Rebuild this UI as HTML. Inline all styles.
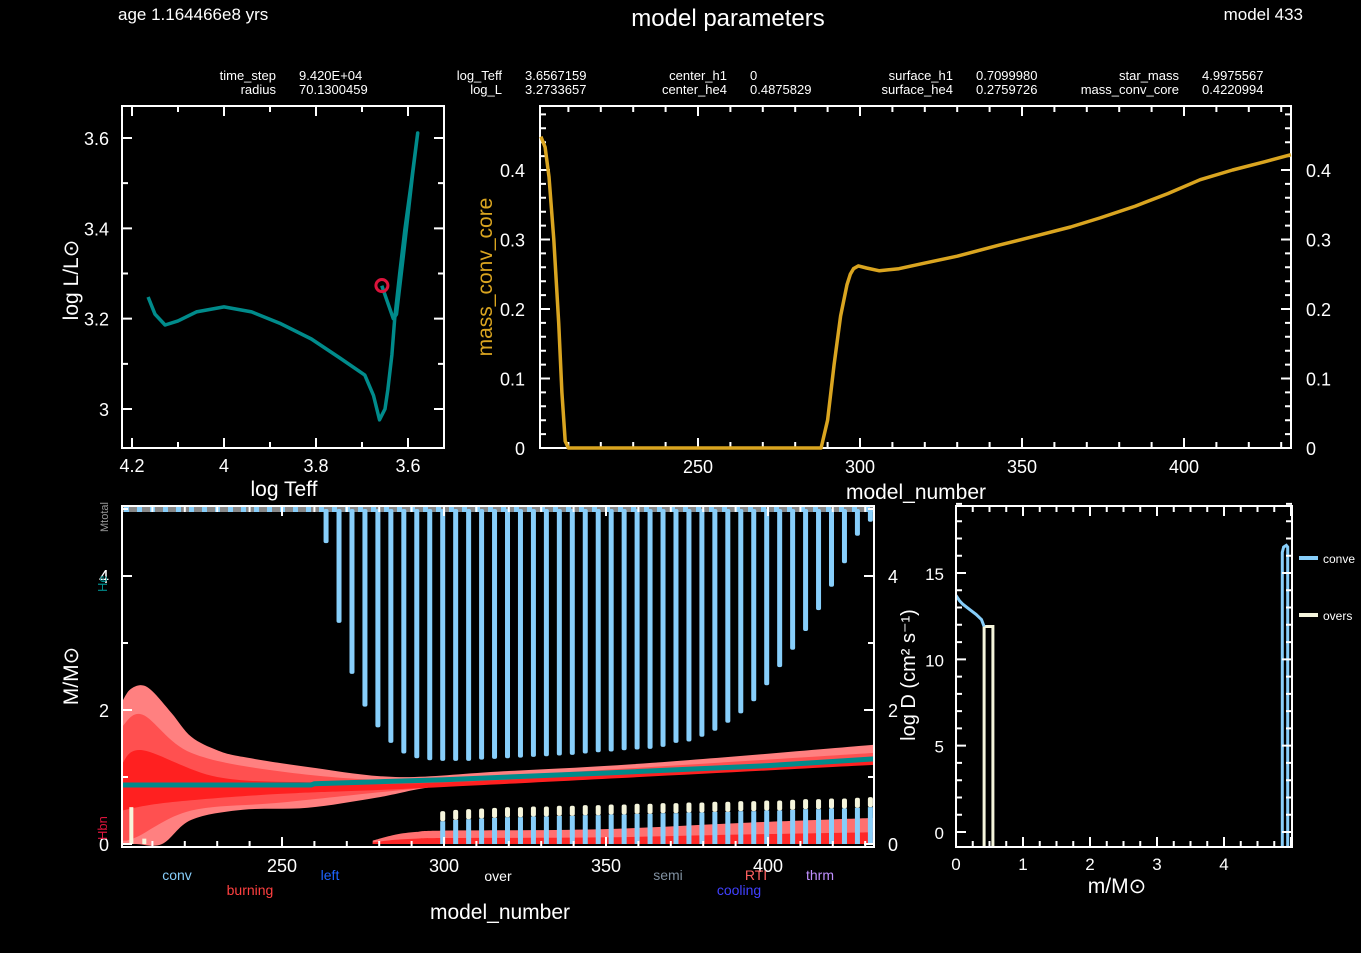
<!DOCTYPE html>
<html><head><meta charset="utf-8"><style>
html,body{margin:0;padding:0;background:#000;}
svg{display:block;font-family:"Liberation Sans",sans-serif;}
</style></head><body>
<svg id="s" width="1361" height="953" viewBox="0 0 1361 953" xmlns="http://www.w3.org/2000/svg">
<rect width="1361" height="953" fill="#000"/>
<g id="hdr" fill="#fff">
<text x="118" y="20" font-size="17">age 1.164466e8 yrs</text>
<text x="728" y="26" font-size="24" text-anchor="middle" font-weight="300">model parameters</text>
<text x="1303" y="20" font-size="17" text-anchor="end">model 433</text>
</g>
<g id="info" font-size="13" fill="#fff"></g>
<g id="hr"></g>
<g id="mc"></g>
<g id="kip"></g>
<g id="dif"></g>
</svg>
<script>
// ---- data arrays ----
const infoNames=[["time_step","radius"],["log_Teff","log_L"],["center_h1","center_he4"],["surface_h1","surface_he4"],["star_mass","mass_conv_core"]];
const infoVals=[["9.420E+04","70.1300459"],["3.6567159","3.2733657"],["0","0.4875829"],["0.7099980","0.2759726"],["4.9975567","0.4220994"]];

const hrTeff=[4.165,4.150,4.128,4.100,4.060,4.000,3.940,3.879,3.810,3.748,3.694,3.675,3.662,3.650,3.644,3.635,3.629,3.618,3.607,3.593,3.579,3.590,3.610,3.625,3.632,3.657];
const hrL=[3.248,3.210,3.186,3.195,3.215,3.226,3.215,3.190,3.155,3.113,3.075,3.030,2.976,3.000,3.042,3.120,3.200,3.300,3.396,3.500,3.611,3.520,3.340,3.210,3.200,3.273];
const hrNowT=3.6567159, hrNowL=3.2733657;

const mcModel=[201.5,202.8,204,205.5,207,208,209,210,250,288,290,292,294,296,297,298,299.5,302,306,312,320,330,343,355,365,374,385,395,405,415,425,433];
const mcVal=[0.448,0.433,0.390,0.300,0.180,0.080,0.010,0.0,0.0,0.0,0.040,0.120,0.190,0.235,0.250,0.258,0.262,0.259,0.255,0.258,0.266,0.276,0.292,0.306,0.318,0.331,0.348,0.366,0.386,0.400,0.412,0.422];

const spikeStart=263.6, spikeStep=4;
const spikeBottom=[4.49,3.30,2.54,2.05,1.74,1.51,1.35,1.28,1.25,1.24,1.24,1.24,1.26,1.27,1.28,1.29,1.30,1.31,1.32,1.33,1.35,1.37,1.38,1.40,1.41,1.42,1.45,1.51,1.53,1.60,1.69,1.81,1.95,2.13,2.37,2.64,2.90,3.18,3.49,3.84,4.19,4.60,4.81];
const coreSpikeTop=[0.34,0.36,0.37,0.38,0.39,0.40,0.40,0.41,0.41,0.42,0.42,0.43,0.43,0.44,0.44,0.45,0.45,0.46,0.46,0.47,0.47,0.48,0.48,0.49,0.49,0.50,0.50,0.51,0.52,0.52,0.53,0.53,0.54,0.55];
const outerUpM=[200.6,203,206.6,210,216,222,230,238,258,285,316.6,364,432.7];
const outerUpV=[2.12,2.30,2.37,2.28,1.95,1.60,1.40,1.30,1.15,1.00,1.08,1.21,1.48];
const outerLoM=[200.6,205,213,222,238,258,279,301,348,432.7];
const outerLoV=[0,0,0,0.36,0.51,0.54,0.69,0.88,1.06,1.21];
const midUpM=[200.6,207,222,250,285,320,432.7];
const midUpV=[1.75,1.93,1.36,1.08,0.95,1.02,1.36];
const midLoM=[200.6,205,222,250,290,330,432.7];
const midLoV=[0.05,0.10,0.50,0.62,0.82,0.98,1.20];
const inUpM=[200.6,207,230,260,300,432.7];
const inUpV=[1.20,1.40,1.00,0.92,0.92,1.25];
const inLoM=[200.6,215,250,300,432.7];
const inLoV=[0.50,0.62,0.75,0.85,1.18];
const heM=[200.6,259,260,300,350,400,432.7];
const heV=[0.88,0.88,0.90,0.96,1.06,1.17,1.27];
const lowBurnM=[278,285,291.5,300,348,394,432.7];
const lowBurnV=[0.05,0.14,0.18,0.20,0.22,0.32,0.39];

const convMass=[0,0.05,0.10,0.20,0.30,0.38,0.42];
const convD=[13.7,13.4,13.2,12.9,12.6,12.3,11.9];
const ovM=[0.42,0.42,0.55,0.55];
const ovD=[-0.9,11.9,11.9,-0.9];
const envM=[4.87,4.87,4.89,4.93,4.95,4.95];
const envD=[-0.9,16.2,16.5,16.6,16.5,-0.9];

// ---- helpers ----
const NS="http://www.w3.org/2000/svg";
function el(tag,attrs,parent,txt){const e=document.createElementNS(NS,tag);for(const k in attrs)e.setAttribute(k,attrs[k]);if(txt!==undefined)e.textContent=txt;parent.appendChild(e);return e;}
function lin(d0,d1,r0,r1){return v=>r0+(v-d0)*(r1-r0)/(d1-d0);}
function frame(g,x0,y0,x1,y1,xs,ys,xMaj,xMin,yMaj,yMin,xr,yr,majLen,minLen){
  el('rect',{x:x0,y:y0,width:x1-x0,height:y1-y0,fill:'none',stroke:'#fff','stroke-width':2},g);
  const p=[];
  const lo=Math.min(xr[0],xr[1]),hi=Math.max(xr[0],xr[1]);
  for(let v=Math.ceil(lo/xMin-1e-6)*xMin;v<=hi+1e-9;v+=xMin){const x=xs(v);const maj=Math.abs(v/xMaj-Math.round(v/xMaj))<1e-6;const L=maj?majLen:minLen;p.push(`M${x},${y1}v${-L}M${x},${y0}v${L}`);}
  const l2=Math.min(yr[0],yr[1]),h2=Math.max(yr[0],yr[1]);
  for(let v=Math.ceil(l2/yMin-1e-6)*yMin;v<=h2+1e-9;v+=yMin){const y=ys(v);const maj=Math.abs(v/yMaj-Math.round(v/yMaj))<1e-6;const L=maj?majLen:minLen;p.push(`M${x0},${y}h${L}M${x1},${y}h${-L}`);}
  el('path',{d:p.join(''),stroke:'#fff','stroke-width':2,fill:'none'},g);
}
function pathOf(xa,ya,xs,ys){return xa.map((v,i)=>(i?'L':'M')+xs(v).toFixed(1)+','+ys(ya[i]).toFixed(1)).join('');}
function smoothPts(pts){ // catmull-rom to bezier
  let d='';
  for(let i=0;i<pts.length-1;i++){
    const p0=pts[Math.max(0,i-1)],p1=pts[i],p2=pts[i+1],p3=pts[Math.min(pts.length-1,i+2)];
    const c1=[p1[0]+(p2[0]-p0[0])/6,p1[1]+(p2[1]-p0[1])/6],c2=[p2[0]-(p3[0]-p1[0])/6,p2[1]-(p3[1]-p1[1])/6];
    d+=`C${c1[0].toFixed(1)},${c1[1].toFixed(1)} ${c2[0].toFixed(1)},${c2[1].toFixed(1)} ${p2[0].toFixed(1)},${p2[1].toFixed(1)}`;
  }
  return d;
}
function band(upM,upV,loM,loV,xs,ys){
  const up=upM.map((m,i)=>[xs(m),ys(upV[i])]);
  const lo=loM.map((m,i)=>[xs(m),ys(loV[i])]).reverse();
  return 'M'+up[0][0].toFixed(1)+','+up[0][1].toFixed(1)+smoothPts(up)+'L'+lo[0][0].toFixed(1)+','+lo[0][1].toFixed(1)+smoothPts(lo)+'Z';
}

// ---- info table ----
const info=document.getElementById('info');
const nameX=[276,502,727,953,1179], valX=[299,525,750,976,1202];
infoNames.forEach((col,i)=>col.forEach((n,j)=>{
  const t=el('text',{x:nameX[i],y:80+j*14,'text-anchor':'end'},info,n);
  
  const v=el('text',{x:valX[i],y:80+j*14},info,infoVals[i][j]);
  
}));

// ---- HR diagram ----
(function(){
  const g=document.getElementById('hr');
  const xs=lin(4,3.6,224,408), ys=lin(3,3.6,409,138);
  frame(g,122,106,444,448,xs,ys,0.2,0.1,0.2,0.1,[4.24,3.53],[2.92,3.68],10,6);
  [4.2,4.0,3.8,3.6].forEach(v=>{const t=el('text',{x:xs(v),y:472,'text-anchor':'middle','font-size':18,fill:'#fff'},g,v===4?'4':v.toFixed(1));});
  [3,3.2,3.4,3.6].forEach(v=>{const t=el('text',{x:109,y:ys(v)+7,'text-anchor':'end','font-size':18,fill:'#fff'},g,v===3?'3':v.toFixed(1));});
  const tr=el('path',{d:pathOf(hrTeff,hrL,xs,ys),fill:'none',stroke:'#008b8b','stroke-width':3.5,'stroke-linejoin':'round'},g);
  
  const c=el('circle',{cx:xs(hrNowT),cy:ys(hrNowL),r:6,fill:'none',stroke:'#dc143c','stroke-width':3},g);
  
  const xl=el('text',{x:284,y:496,'text-anchor':'middle','font-size':21,fill:'#fff'},g,'log Teff');
  
  const yl=el('text',{transform:'translate(78,280) rotate(-90)','text-anchor':'middle','font-size':21,fill:'#fff'},g,'log L/L⊙');
  
})();

// ---- mass_conv_core history ----
(function(){
  const g=document.getElementById('mc');
  const xs=lin(250,400,698,1184), ys=lin(0,0.4,448,170);
  frame(g,540,106,1291,448,xs,ys,50,10,0.1,0.02,[201.2,433],[0,0.49],10,6);
  [250,300,350,400].forEach(v=>{const t=el('text',{x:xs(v),y:473,'text-anchor':'middle','font-size':18,fill:'#fff'},g,v);});
  [0,0.1,0.2,0.3,0.4].forEach(v=>{const s=v===0?'0':v.toFixed(1);
    const a=el('text',{x:525,y:ys(v)+7,'text-anchor':'end','font-size':18,fill:'#fff'},g,s);
    const b=el('text',{x:1306,y:ys(v)+7,'font-size':18,fill:'#fff'},g,s);});
  const ln=el('path',{d:pathOf(mcModel,mcVal,xs,ys),fill:'none',stroke:'#daa520','stroke-width':3.5,'stroke-linejoin':'round'},g);
  
  const xl=el('text',{x:916,y:499,'text-anchor':'middle','font-size':21,fill:'#fff'},g,'model_number');
  
  const yl=el('text',{transform:'translate(492,277) rotate(-90)','text-anchor':'middle','font-size':21,fill:'#daa520'},g,'mass_conv_core');
  
})();

// ---- Kippenhahn ----
(function(){
  const g=document.getElementById('kip');
  const xs=lin(250,400,282,768), ys=lin(0,4,844,576);
  const cl=el('clipPath',{id:'kc'},g);el('rect',{x:122,y:506,width:752,height:341},cl);
  const p=el('g',{'clip-path':'url(#kc)'},g);
  const o=el('path',{d:band(outerUpM,outerUpV,outerLoM,outerLoV,xs,ys),fill:'#ff8080'},p);
  const m=el('path',{d:band(midUpM,midUpV,midLoM,midLoV,xs,ys),fill:'#ff5050'},p);
  const i=el('path',{d:band(inUpM,inUpV,inLoM,inLoV,xs,ys),fill:'#ff2020'},p);
  const lbZero=lowBurnM.map(()=>0);
  const lb=el('path',{d:band(lowBurnM,lowBurnV,lowBurnM,lbZero,xs,ys),fill:'#ff7070'},p);
  const lb2=el('path',{d:band(lowBurnM,lowBurnV.map(v=>v*0.45),lowBurnM,lbZero,xs,ys),fill:'#ff2828'},p);
  const tb=el('rect',{x:122,y:ys(5.0)-2,width:752,height:5,fill:'#888'},p);
  for(let k=0;k<58;k++){const d=el('rect',{x:124+k*13,y:ys(5.0)-2,width:5,height:5,fill:'#87cefa'},p);}
  spikeBottom.forEach((b,k)=>{const x=xs(spikeStart+k*spikeStep);
    const r=el('rect',{x:x-2.5,y:ys(5.0),width:5,height:ys(b)-ys(5.0),rx:2,fill:'#87cefa'},p);
    });
  coreSpikeTop.forEach((t,k)=>{const x=xs(spikeStart+(k+9)*spikeStep);
    const c1=el('rect',{x:x-2.5,y:ys(t),width:5,height:ys(0)-ys(t),fill:'#87cefa'},p);
    const c2=el('rect',{x:x-2.5,y:ys(t+0.15),width:5,height:ys(t)-ys(t+0.15),rx:2,fill:'#f5f5dc'},p);});
  const e1=el('rect',{x:xs(203.5)-2,y:ys(0.55),width:4,height:ys(0)-ys(0.55),fill:'#f5f5dc'},p);
  const e2=el('rect',{x:xs(207.5)-2,y:ys(0.08),width:4,height:ys(0)-ys(0.08),fill:'#f5f5dc'},p);
  const he=el('path',{d:pathOf(heM,heV,xs,ys),fill:'none',stroke:'#008b8b','stroke-width':5},p);
  frame(g,122,506,874,847,xs,ys,50,10,2,1,[200.6,432.7],[0,5.05],10,6);
  [250,300,350,400].forEach(v=>{const t=el('text',{x:xs(v),y:872,'text-anchor':'middle','font-size':18,fill:'#fff'},g,v);});
  [0,2,4].forEach(v=>{const a=el('text',{x:109,y:ys(v)+7,'text-anchor':'end','font-size':18,fill:'#fff'},g,v);
    const b=el('text',{x:888,y:ys(v)+7,'font-size':18,fill:'#fff'},g,v);});
  const xl=el('text',{x:500,y:919,'text-anchor':'middle','font-size':21,fill:'#fff'},g,'model_number');
  const yl=el('text',{transform:'translate(78,676) rotate(-90)','text-anchor':'middle','font-size':21,fill:'#fff'},g,'M/M⊙');
  const a1=el('text',{transform:'translate(108,532) rotate(-90)','font-size':11,fill:'#999'},g,'Mtotal');
  const a2=el('text',{transform:'translate(107,592) rotate(-90)','font-size':13,fill:'#008b8b'},g,'He');
  const a3=el('text',{transform:'translate(107,840) rotate(-90)','font-size':13,fill:'#dc143c'},g,'Hbn');
  const leg=[['conv',177,880,'#87cefa'],['burning',250,895,'#ff4040'],['left',330,880,'#1e64ff'],['over',498,881,'#fff'],['semi',668,880,'#8090a0'],['RTI',756,880,'#ff6060'],['cooling',739,895,'#4040ff'],['thrm',820,880,'#c090ff']];
  leg.forEach(l=>{const t=el('text',{x:l[1],y:l[2],'text-anchor':'middle','font-size':14,fill:l[3]},g,l[0]);});
})();

// ---- Diffusion profile ----
(function(){
  const g=document.getElementById('dif');
  const xs=lin(0,4,956,1224), ys=lin(0,15,832,573);
  const cl=el('clipPath',{id:'dc'},g);el('rect',{x:956,y:506,width:336,height:341},cl);
  const p=el('g',{'clip-path':'url(#dc)'},g);
  const ov=el('path',{d:pathOf(ovM,ovD,xs,ys),fill:'none',stroke:'#f5f5dc','stroke-width':3},p);
  const c1=el('path',{d:pathOf(convMass,convD,xs,ys),fill:'none',stroke:'#87cefa','stroke-width':3},p);
  const c2=el('path',{d:pathOf(envM,envD,xs,ys),fill:'none',stroke:'#87cefa','stroke-width':3},p);
  frame(g,956,506,1292,847,xs,ys,1,0.25,5,1,[0,5.0],[-0.9,19],10,6);
  [0,1,2,3,4].forEach(v=>{const t=el('text',{x:xs(v),y:870,'text-anchor':'middle','font-size':17,fill:'#fff'},g,v);});
  [0,5,10,15].forEach(v=>{const t=el('text',{x:944,y:ys(v)+7,'text-anchor':'end','font-size':17,fill:'#fff'},g,v);});
  const xl=el('text',{x:1117,y:893,'text-anchor':'middle','font-size':21,fill:'#fff'},g,'m/M⊙');
  const yl=el('text',{transform:'translate(915,675) rotate(-90)','text-anchor':'middle','font-size':20,fill:'#fff'},g,'log D (cm² s⁻¹)');
  const l1=el('line',{x1:1299,x2:1318,y1:558,y2:558,stroke:'#87cefa','stroke-width':4},g);
  const t1=el('text',{x:1323,y:563,'font-size':12,fill:'#fff'},g,'conve');
  const l2=el('line',{x1:1299,x2:1318,y1:615,y2:615,stroke:'#f5f5dc','stroke-width':4},g);
  const t2=el('text',{x:1323,y:620,'font-size':12,fill:'#fff'},g,'overs');
})();
</script>
</body></html>
